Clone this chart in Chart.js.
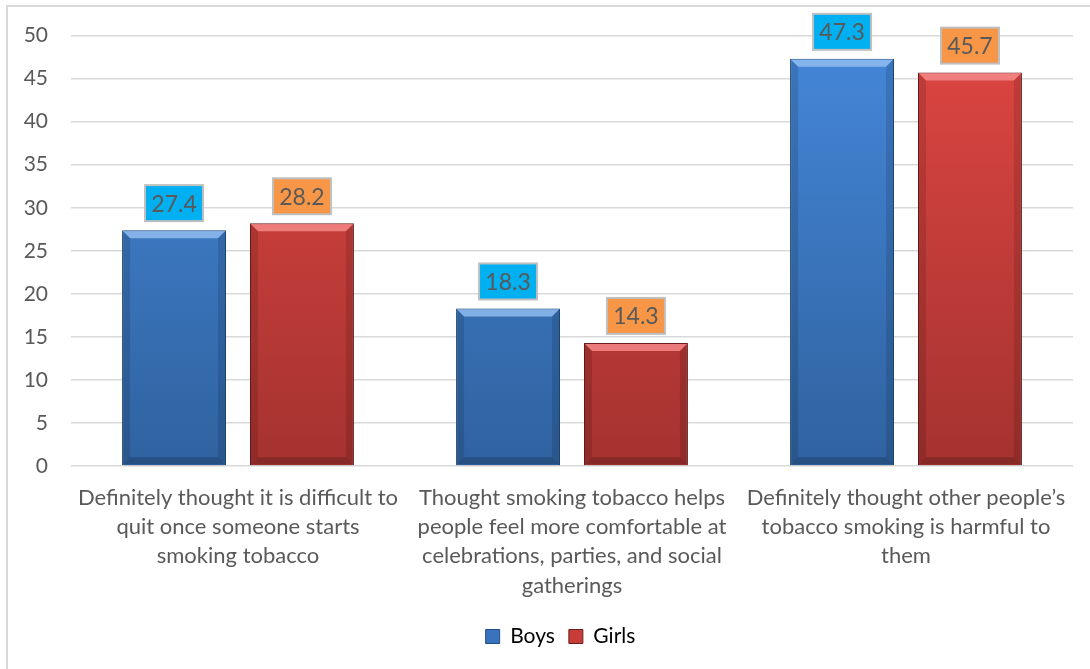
<!DOCTYPE html>
<html>
<head>
<meta charset="utf-8">
<script src="https://cdn.jsdelivr.net/npm/chart.js@4.4.1/dist/chart.umd.min.js"></script>
<style>
  html, body { margin: 0; padding: 0; background: #fff; overflow: hidden; }
  .frame { position: absolute; left: 6px; top: 5px; width: 1200px; height: 800px; border: 2px solid #d9d9d9; }
  .wrap { position: absolute; left: 0; top: 0; width: 1090px; height: 669px; }
</style>
</head>
<body>
<div class="frame"></div>
<div class="wrap"><canvas id="barChart"></canvas></div>
<script>
const categories = [
  ["Definitely thought it is difficult to", "quit once someone starts", "smoking tobacco"],
  ["Thought smoking tobacco helps", "people feel more comfortable at", "celebrations, parties, and social", "gatherings"],
  ["Definitely thought other people\u2019s", "tobacco smoking is harmful to", "them"],
];
const boys = [27.4, 18.3, 47.3];
const girls = [28.2, 14.3, 45.7];
const yMax = 50;
const yStep = 5;

const FONT = "Lato, 'Open Sans', sans-serif";
const TEXT = "#595959";

function gradient(top, bottom) {
  return (context) => {
    const area = context.chart.chartArea;
    if (!area) return bottom;
    const g = context.chart.ctx.createLinearGradient(0, area.top, 0, area.bottom);
    g.addColorStop(0, top);
    g.addColorStop(1, bottom);
    return g;
  };
}

// legend in the original sits a little right of centre
const legendShift = {
  id: "legendShift",
  afterLayout(chart) {
    chart.legend.left += 24;
    chart.legend.right += 24;
  },
};

// bevel look, shadow and boxed value labels
const barDeco = {
  id: "barDeco",
  beforeDatasetsDraw(chart) {
    const c = chart.ctx;
    c.save();
    c.shadowColor = "rgba(0,0,0,0.3)";
    c.shadowBlur = 6;
    c.shadowOffsetY = 3;
  },
  afterDatasetsDraw(chart) {
    const c = chart.ctx;
    c.restore();
    const labelFill = ["#00b0f0", "#f79646"];
    const lights = ["rgba(150,192,242,0.8)", "rgba(248,140,140,0.8)"];
    chart.data.datasets.forEach((ds, i) => {
      chart.getDatasetMeta(i).data.forEach((bar, j) => {
        const l = bar.x - bar.width / 2, r = bar.x + bar.width / 2;
        const t = bar.y, b = bar.base, bv = 8;
        c.save();
        // top bevel
        c.fillStyle = lights[i];
        c.beginPath();
        c.moveTo(l + 1, t + 1); c.lineTo(r - 1, t + 1); c.lineTo(r - bv, t + bv); c.lineTo(l + bv, t + bv);
        c.closePath(); c.fill();
        // side bevels
        c.fillStyle = "rgba(0,0,0,0.12)";
        c.beginPath();
        c.moveTo(l + 1, t + 1); c.lineTo(l + bv, t + bv); c.lineTo(l + bv, b - bv); c.lineTo(l + 1, b - 1);
        c.closePath(); c.fill();
        c.beginPath();
        c.moveTo(r - 1, t + 1); c.lineTo(r - bv, t + bv); c.lineTo(r - bv, b - bv); c.lineTo(r - 1, b - 1);
        c.closePath(); c.fill();
        c.fillStyle = "rgba(0,0,0,0.18)";
        c.beginPath();
        c.moveTo(l + 1, b - 1); c.lineTo(l + bv, b - bv); c.lineTo(r - bv, b - bv); c.lineTo(r - 1, b - 1);
        c.closePath(); c.fill();

        // value label box
        const text = ds.data[j].toFixed(1);
        const w = 58, h = 36;
        const bx = bar.x - w / 2, by = t - 9 - h;
        c.fillStyle = labelFill[i];
        c.fillRect(bx, by, w, h);
        c.strokeStyle = "#bfbfbf";
        c.lineWidth = 2;
        c.strokeRect(bx, by, w, h);
        c.fillStyle = TEXT;
        c.font = "23px " + FONT;
        c.textAlign = "center";
        c.textBaseline = "middle";
        c.fillText(text, bar.x, by + h / 2 + 1);
        c.restore();
      });
    });
  },
};

new Chart(document.getElementById("barChart").getContext("2d"), {
  type: "bar",
  data: {
    labels: categories,
    datasets: [
      {
        label: "Boys",
        data: boys,
        backgroundColor: gradient("#4587d9", "#2f629f"),
        borderColor: "#1f4e80",
        borderWidth: 1,
        categoryPercentage: 0.766,
        barPercentage: 0.8125,
      },
      {
        label: "Girls",
        data: girls,
        backgroundColor: gradient("#de4642", "#a4322f"),
        borderColor: "#6e1f1d",
        borderWidth: 1,
        categoryPercentage: 0.766,
        barPercentage: 0.8125,
      },
    ],
  },
  options: {
    responsive: true,
    maintainAspectRatio: false,
    animation: false,
    layout: { padding: { top: 34, right: 17, left: 0, bottom: 12 } },
    plugins: {
      tooltip: { enabled: false },
      legend: {
        position: "bottom",
        labels: {
          color: TEXT,
          font: { family: FONT, size: 21 },
          boxWidth: 14,
          boxHeight: 14,
          padding: 14,
          generateLabels: () => [
            { text: "Boys", fillStyle: "#3a72bd", strokeStyle: "#1f4e80", lineWidth: 1, datasetIndex: 0 },
            { text: "Girls", fillStyle: "#c53c39", strokeStyle: "#6e1f1d", lineWidth: 1, datasetIndex: 1 },
          ],
        },
      },
    },
    scales: {
      x: {
        grid: { display: false, drawTicks: false },
        border: { display: false },
        ticks: {
          color: TEXT,
          font: { family: FONT, size: 22, lineHeight: 1.33 },
          padding: 17,
          maxRotation: 0,
          autoSkip: false,
        },
        afterFit: (s) => { s.height = 146; },
      },
      y: {
        min: 0,
        max: yMax,
        grid: { color: "#d9d9d9", lineWidth: 1.5, drawTicks: false },
        border: { display: false },
        ticks: {
          stepSize: yStep,
          color: TEXT,
          font: { family: FONT, size: 21 },
          padding: 23,
        },
        afterFit: (s) => { s.width = 71; },
      },
    },
  },
  plugins: [barDeco, legendShift],
});
</script>
</body>
</html>
